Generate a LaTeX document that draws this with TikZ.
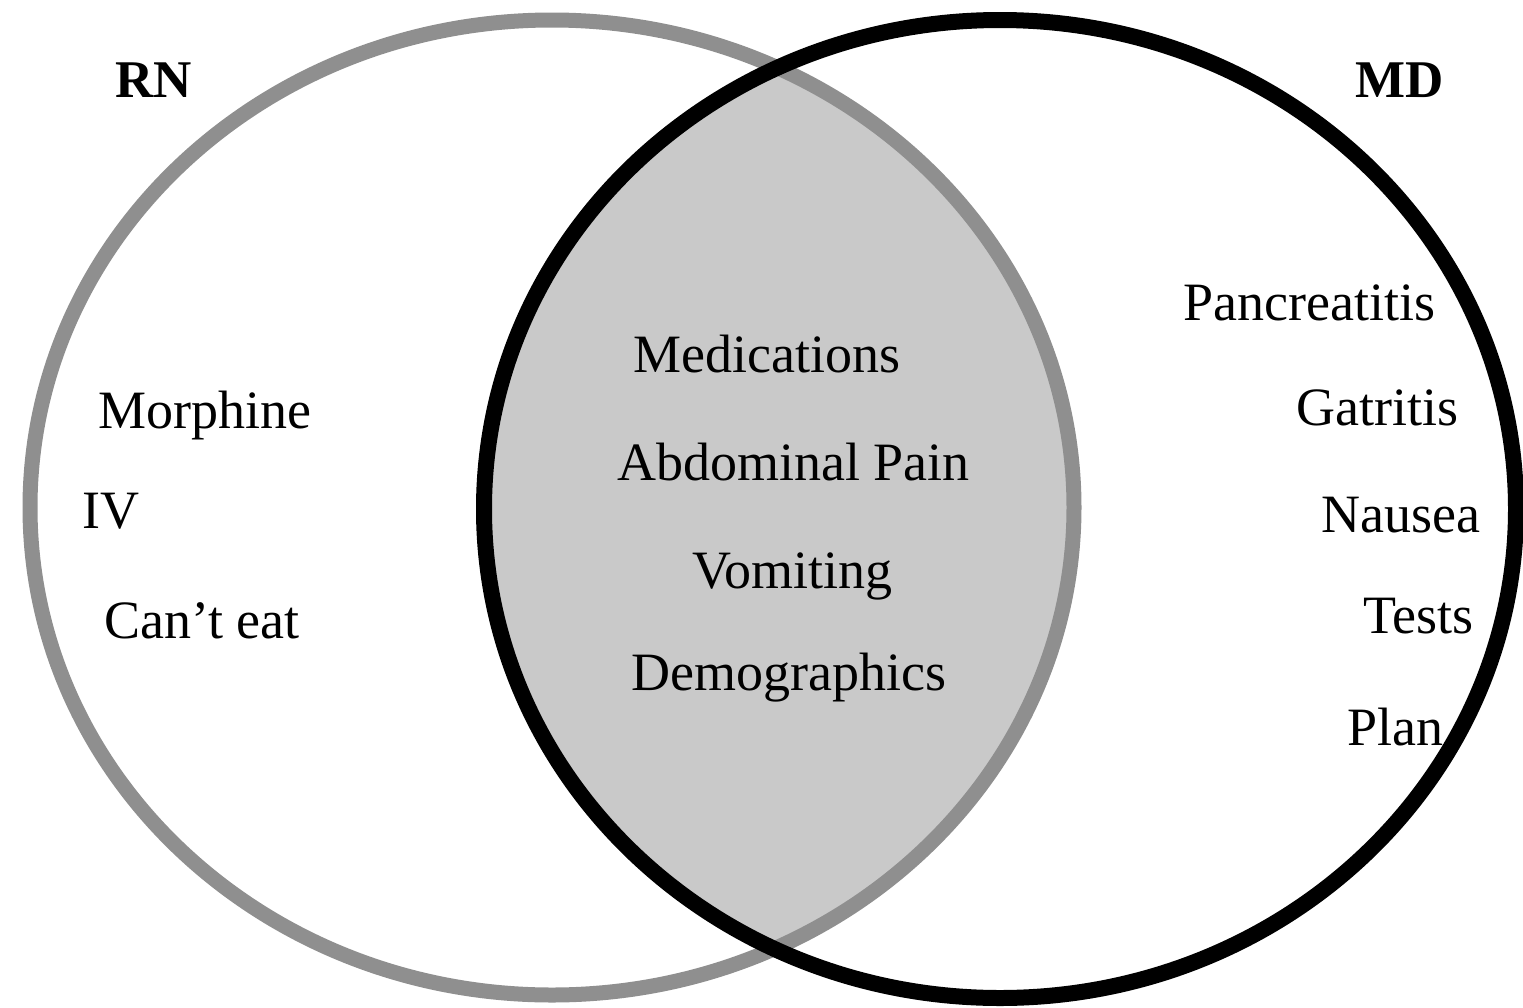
\documentclass[tikz,border=0pt]{standalone}
\usepackage{fontspec}
\setmainfont{Liberation Serif}
\definecolor{ringgray}{HTML}{8F8F8F}
\definecolor{overlapgray}{HTML}{C9C9C9}
\begin{document}
\begin{tikzpicture}[x=0.5pt,y=-0.5pt,
  lbl/.style={anchor=base west,inner sep=0pt,font=\fontsize{27}{32}\selectfont},
  head/.style={anchor=base west,inner sep=0pt,font=\fontsize{26.5}{32}\selectfont\bfseries},
  rnring/.style={draw=ringgray,line width=7.5pt},
  mdring/.style={draw=black,line width=8pt}]
\useasboundingbox (0,0) rectangle (1523,1008);
% overlap fill
\begin{scope}
  \clip (552,507.5) ellipse [x radius=522, y radius=487.5];
  \fill[overlapgray] (1000,509) ellipse [x radius=516, y radius=489];
\end{scope}
% rings
\draw[rnring] (552,507.5) ellipse [x radius=522, y radius=487.5];
\draw[mdring] (1000,509) ellipse [x radius=516, y radius=489];
% headings
\node[head] (rn) at (115,97) {RN};
\node[head] (md) at (1355,97) {MD};
% RN only
\node[lbl] (morphine) at (98,428) {Morphine};
\node[lbl] (iv) at (82,528) {IV};
\node[lbl] (canteat) at (104,638) {Can’t eat};
% shared
\node[lbl] (medications) at (633,372) {Medications};
\node[lbl] (abdpain) at (617,480) {Abdominal Pain};
\node[lbl] (vomiting) at (692,588) {Vomiting};
\node[lbl] (demographics) at (631,690) {Demographics};
% MD only
\node[lbl] (pancreatitis) at (1183,320) {Pancreatitis};
\node[lbl] (gatritis) at (1296,425) {Gatritis};
\node[lbl] (nausea) at (1321,532) {Nausea};
\node[lbl] (tests) at (1363,633) {Tests};
\node[lbl] (plan) at (1347,745) {Plan};
\end{tikzpicture}
\end{document}
